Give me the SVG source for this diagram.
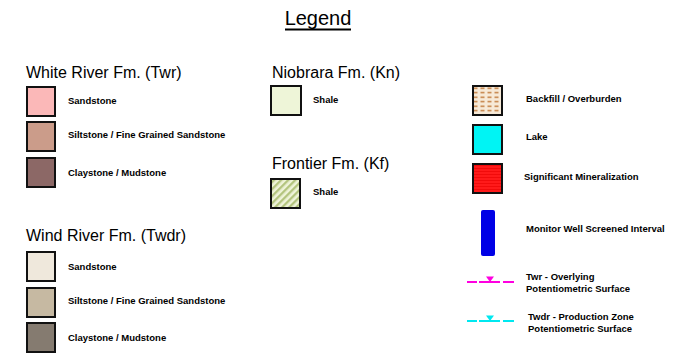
<svg xmlns="http://www.w3.org/2000/svg" width="686" height="354" viewBox="0 0 686 354">
<style>
.t{font-family:"Liberation Sans",Arial,sans-serif;fill:#000}
.h{font-size:16px}
.l{font-size:9.5px;font-weight:bold}
.sw{stroke:#111;stroke-width:2}
</style>
<defs>
<pattern id="hatch" width="5" height="5" patternUnits="userSpaceOnUse" patternTransform="rotate(45)">
<rect width="5" height="5" fill="#eef3d8"/>
<rect width="2.3" height="5" fill="#b3c47e"/>
</pattern>
<pattern id="fill" width="7" height="4.5" patternUnits="userSpaceOnUse" x="473" y="86">
<rect width="7" height="4.5" fill="#f7ead8"/>
<rect x="0.5" y="1.5" width="4" height="1.4" fill="#c07838"/>
</pattern>
<pattern id="min" width="4" height="3" patternUnits="userSpaceOnUse">
<rect width="4" height="3" fill="#ff1a1a"/>
<rect width="4" height="0.6" fill="#e80000"/>
</pattern>
</defs>
<rect width="686" height="354" fill="#fff"/>
<g id="title">
<text class="t" x="318" y="25" font-size="20" text-anchor="middle">Legend</text>
<line x1="285" y1="29.5" x2="351" y2="29.5" stroke="#000" stroke-width="2"/>
</g>
<g id="white-river">
<text class="t h" x="26" y="78">White River Fm. (Twr)</text>
<rect class="sw" x="27" y="87" width="28" height="29" fill="#fbb8b8"/>
<text class="t l" x="68" y="104">Sandstone</text>
<rect class="sw" x="27" y="122" width="28" height="29" fill="#cb9c8a"/>
<text class="t l" x="68" y="138">Siltstone / Fine Grained Sandstone</text>
<rect class="sw" x="27" y="158" width="28" height="29" fill="#8c6866"/>
<text class="t l" x="68" y="176">Claystone / Mudstone</text>
</g>
<g id="wind-river">
<text class="t h" x="26" y="241">Wind River Fm. (Twdr)</text>
<rect class="sw" x="27" y="252" width="28" height="29" fill="#efe8dc"/>
<text class="t l" x="68" y="270">Sandstone</text>
<rect class="sw" x="27" y="288" width="28" height="29" fill="#c6b9a2"/>
<text class="t l" x="68" y="304">Siltstone / Fine Grained Sandstone</text>
<rect class="sw" x="27" y="323" width="28" height="29" fill="#857b70"/>
<text class="t l" x="68" y="341">Claystone / Mudstone</text>
</g>
<g id="niobrara">
<text class="t h" x="272" y="78">Niobrara Fm. (Kn)</text>
<rect class="sw" x="271" y="86" width="30" height="29" fill="#eef5d8"/>
<text class="t l" x="313" y="103">Shale</text>
</g>
<g id="frontier">
<text class="t h" x="272" y="169">Frontier Fm. (Kf)</text>
<rect class="sw" x="271" y="179" width="29" height="29" fill="url(#hatch)"/>
<text class="t l" x="313" y="195">Shale</text>
</g>
<g id="backfill">
<rect class="sw" x="473" y="86" width="29" height="29" fill="url(#fill)"/>
<text class="t l" x="526" y="102">Backfill / Overburden</text>
</g>
<g id="lake">
<rect class="sw" x="473" y="125" width="29" height="29" fill="#00f4f4"/>
<text class="t l" x="526" y="140">Lake</text>
</g>
<g id="mineralization">
<rect class="sw" x="473" y="164" width="29" height="29" fill="url(#min)"/>
<text class="t l" x="524" y="180">Significant Mineralization</text>
</g>
<g id="monitor-well">
<rect x="481" y="210" width="14" height="46" rx="2" fill="#0000e6"/>
<text class="t l" x="526" y="232">Monitor Well Screened Interval</text>
</g>
<g id="twr-surface">
<path d="M467 282H477M479 282H500M503 282H514" stroke="#ff00e0" stroke-width="1.8" fill="none"/>
<path d="M486 276.5H494L490 282Z" fill="#ff00e0"/>
<text class="t l" x="526" y="280">Twr - Overlying</text>
<text class="t l" x="526" y="292">Potentiometric Surface</text>
</g>
<g id="twdr-surface">
<path d="M467 321H477M479 321H500M503 321H514" stroke="#00e8f0" stroke-width="1.8" fill="none"/>
<path d="M486 315.5H494L490 321Z" fill="#00e8f0"/>
<text class="t l" x="528" y="320">Twdr - Production Zone</text>
<text class="t l" x="528" y="332">Potentiometric Surface</text>
</g>
</svg>
